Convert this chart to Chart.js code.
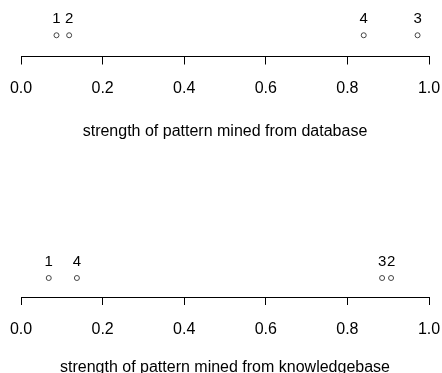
<!DOCTYPE html>
<html>
<head>
<meta charset="utf-8">
<script src="https://cdn.jsdelivr.net/npm/chart.js@4/dist/chart.umd.min.js"></script>
<style>
  html, body { margin: 0; padding: 0; background: #fff; height: 373px; overflow: hidden; }
  canvas { display: block; }
</style>
</head>
<body>
<canvas id="dbChart" width="442" height="241"></canvas>
<canvas id="kbChart" width="442" height="141"></canvas>
<script>
// Pattern ids and their strengths in each source
const patternIds = ['1', '2', '3', '4'];
const dbStrength = [0.087, 0.118, 0.972, 0.840];
const kbStrength = [0.068, 0.907, 0.885, 0.137];
const tickValues = [0.0, 0.2, 0.4, 0.6, 0.8, 1.0];
const dbTitle = 'strength of pattern mined from database';
const kbTitle = 'strength of pattern mined from knowledgebase';

const FONT = 'Liberation Sans, Arial, Helvetica, sans-serif';

// Writes each pattern id just above its point
const idLabels = {
  id: 'idLabels',
  afterDatasetsDraw(chart) {
    const ctx = chart.ctx;
    const meta = chart.getDatasetMeta(0);
    ctx.save();
    ctx.fillStyle = '#000';
    ctx.font = '15px ' + FONT;
    ctx.textAlign = 'center';
    ctx.textBaseline = 'middle';
    meta.data.forEach((pt, i) => {
      ctx.fillText(patternIds[i], pt.x, pt.y - 16);
    });
    ctx.restore();
  }
};

function stripChart(canvasId, values, title, pad, axisHeight, titleGap) {
  return new Chart(document.getElementById(canvasId), {
    type: 'scatter',
    data: {
      datasets: [{
        data: values.map(v => ({ x: v, y: 0 })),
        pointStyle: 'circle',
        pointRadius: 2.5,
        pointHoverRadius: 2.5,
        pointBorderWidth: 1,
        borderColor: '#444',
        backgroundColor: 'rgba(0,0,0,0)'
      }]
    },
    options: {
      responsive: false,
      animation: false,
      events: [],
      layout: { padding: pad },
      plugins: { legend: { display: false }, tooltip: { enabled: false } },
      scales: {
        y: { display: false, min: -1, max: 1 },
        x: {
          type: 'linear',
          min: 0,
          max: 1,
          afterBuildTicks(scale) { scale.ticks = tickValues.map(v => ({ value: v })); },
          afterFit(scale) {
            // the axis band is taller than half the canvas, so fix its size here
            scale.paddingLeft = 0;
            scale.paddingRight = 0;
            scale.height = axisHeight;
          },
          border: { display: true, color: '#000', width: 1 },
          grid: {
            display: true,
            drawOnChartArea: false,
            drawTicks: true,
            tickLength: 8,
            tickColor: '#000',
            tickWidth: 1
          },
          ticks: {
            color: '#000',
            font: { family: FONT, size: 16 },
            padding: 14.5,
            maxRotation: 0,
            callback: v => Number(v).toFixed(1)
          },
          title: {
            display: true,
            text: title,
            color: '#000',
            font: { family: FONT, size: 16 },
            padding: { top: titleGap, bottom: 0 }
          }
        }
      }
    },
    plugins: [idLabels]
  });
}

stripChart('dbChart', dbStrength, dbTitle, { left: 21, right: 13, top: 14, bottom: 99.5 }, 85, 25.6);
stripChart('kbChart', kbStrength, kbTitle, { left: 21, right: 13, top: 18, bottom: 4.4 }, 80.6, 21.2);
</script>
</body>
</html>
